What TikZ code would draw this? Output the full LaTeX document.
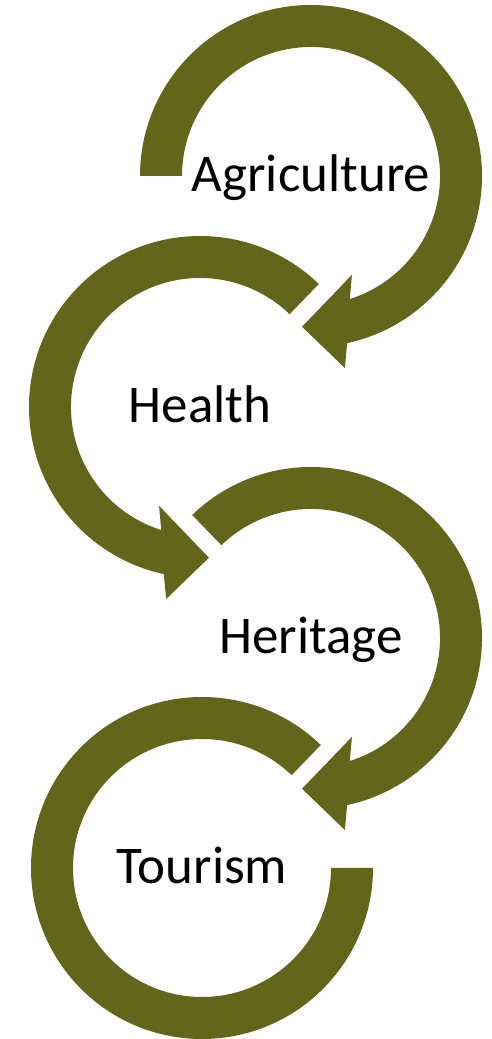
\documentclass[tikz,border=0pt]{standalone}
\usepackage{fontspec}
\setmainfont{Carlito}
\usepackage{tikz}

\definecolor{olivebar}{RGB}{99,101,27}

\begin{document}
\begin{tikzpicture}[x=1pt,y=1pt,
    ring/.style={fill=olivebar},
    word/.style={anchor=base,font=\fontsize{53}{60}\selectfont}]
    \useasboundingbox (0,0) rectangle (491,1039);
    \coordinate (agri) at (311,863);
    \coordinate (heal) at (200,632);
    \coordinate (heri) at (311,401);
    \coordinate (tour) at (202,171);
    \begin{scope}[shift={(agri)}]
      \fill[ring] (180:171) arc[start angle=180,end angle=-77.8,radius=171] -- (-80:195) -- (-93.4:151) -- (-67.5:107) -- (-72.5:129) arc[start angle=-72.5,end angle=180,radius=129] -- cycle;
    \end{scope}
    \begin{scope}[shift={(heal)}]
      \fill[ring] (46:171) arc[start angle=46,end angle=257.8,radius=171] -- (260:195) -- (273.4:151) -- (247.5:107) -- (252.5:129) arc[start angle=252.5,end angle=46,radius=129] -- cycle;
    \end{scope}
    \begin{scope}[shift={(heri)}]
      \fill[ring] (134:171) arc[start angle=134,end angle=-77.8,radius=171] -- (-80:195) -- (-93.4:151) -- (-67.5:107) -- (-72.5:129) arc[start angle=-72.5,end angle=134,radius=129] -- cycle;
    \end{scope}
    \begin{scope}[shift={(tour)}]
      \fill[ring] (46:171) arc[start angle=46,end angle=360,radius=171] -- (0:129) arc[start angle=360,end angle=46,radius=129] -- cycle;
    \end{scope}
    \node[word] (agritext) at ([yshift=-16]agri) {Agriculture};
    \node[word] (healtext) at ([yshift=-16]heal) {Health};
    \node[word] (heritext) at ([yshift=-16]heri) {Heritage};
    \node[word] (tourtext) at ([yshift=-16]tour) {Tourism};
  \end{tikzpicture}
\end{document}
